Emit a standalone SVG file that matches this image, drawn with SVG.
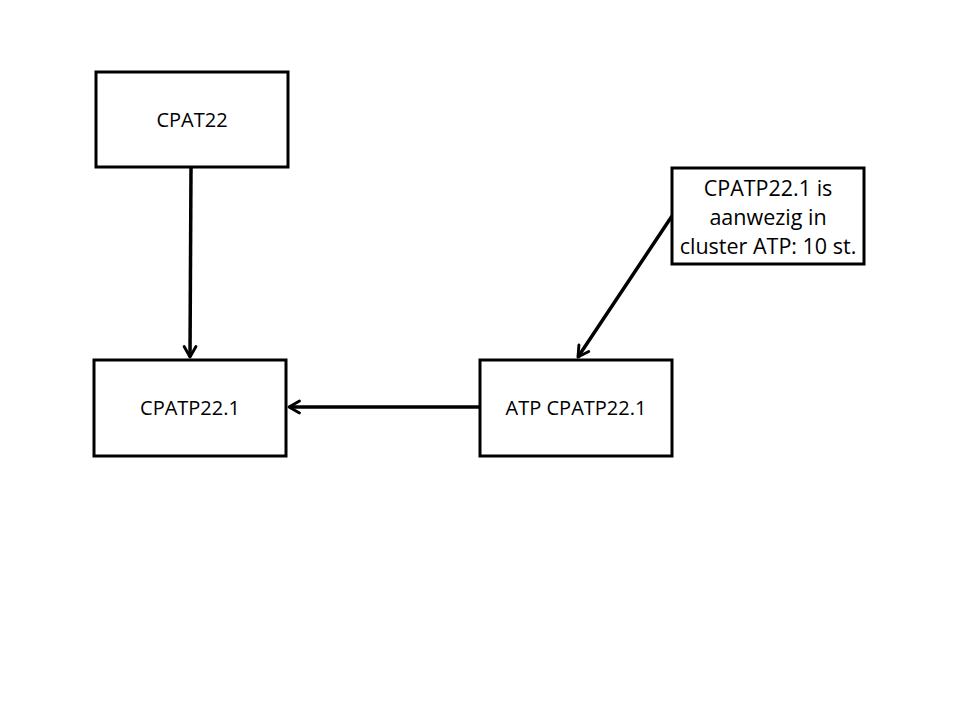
<svg xmlns="http://www.w3.org/2000/svg" width="960" height="720" viewBox="0 0 960 720">
<style>
.box{fill:#fff;stroke:#000;stroke-width:3}
.t{font-family:"Open Sans","Liberation Sans",sans-serif;font-size:20px;fill:#000;text-anchor:middle}
.n{font-size:21.5px}
.c{fill:none;stroke:#000;stroke-width:3.5;marker-end:url(#arr)}
</style>
<defs>
<marker id="arr" viewBox="0 0 12 12" refX="10" refY="6" markerWidth="4.5" markerHeight="4.5" markerUnits="strokeWidth" orient="auto">
<path d="M2,1.5 L10,6 L2,10.5" fill="none" stroke="#000" stroke-width="2.2" stroke-linecap="round" stroke-linejoin="round"/>
</marker>
</defs>
<rect width="960" height="720" fill="#fff"/>
<g id="edges">
<line class="c" x1="191" y1="168" x2="190" y2="357"/>
<line class="c" x1="479" y1="407" x2="289" y2="407"/>
<line class="c" x1="672" y1="216" x2="578" y2="357"/>
</g>
<g id="n1"><rect class="box" x="96" y="72" width="192" height="95"/><text class="t" x="192" y="127">CPAT22</text></g>
<g id="n2"><rect class="box" x="94" y="360" width="192" height="96"/><text class="t" x="190" y="415">CPATP22.1</text></g>
<g id="n3"><rect class="box" x="480" y="360" width="192" height="96"/><text class="t" x="576" y="415">ATP CPATP22.1</text></g>
<g id="n4"><rect class="box" x="672" y="168" width="192" height="96"/>
<text class="t n" x="768" y="196">CPATP22.1 is</text>
<text class="t n" x="768" y="225">aanwezig in</text>
<text class="t n" x="768" y="254">cluster ATP: 10 st.</text></g>
</svg>
